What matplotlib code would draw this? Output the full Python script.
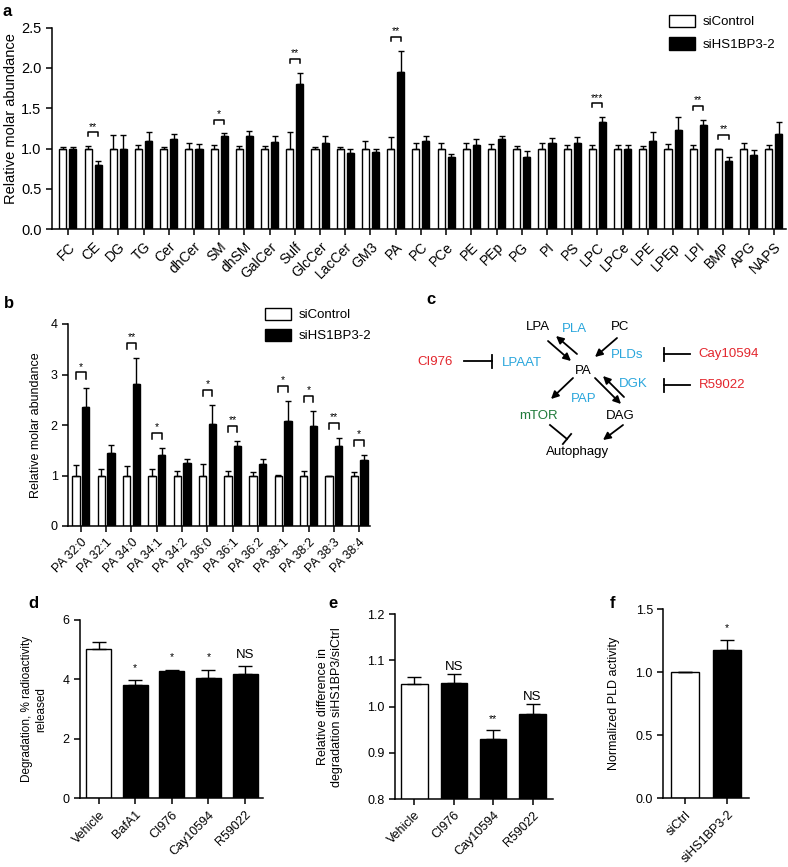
import matplotlib
matplotlib.use("Agg")
import matplotlib.pyplot as plt
import numpy as np

plt.rcParams['font.family'] = ['Liberation Sans', 'DejaVu Sans']
plt.rcParams['axes.linewidth'] = 1.1

# ---- panel a data ----
lipids = ["FC", "CE", "DG", "TG", "Cer", "dhCer", "SM", "dhSM", "GalCer", "Sulf",
          "GlcCer", "LacCer", "GM3", "PA", "PC", "PCe", "PE", "PEp", "PG", "PI",
          "PS", "LPC", "LPCe", "LPE", "LPEp", "LPI", "BMP", "APG", "NAPS"]
ctrl_a = [1.0, 1.0, 1.0, 1.0, 1.0, 1.0, 1.0, 1.0, 1.0, 1.0,
          1.0, 1.0, 1.0, 1.0, 1.0, 1.0, 1.0, 1.0, 1.0, 1.0,
          1.0, 1.0, 1.0, 1.0, 1.0, 1.0, 1.0, 1.0, 1.0]
ctrl_a_err = [0.02, 0.03, 0.17, 0.04, 0.02, 0.07, 0.04, 0.03, 0.03, 0.20,
              0.02, 0.02, 0.09, 0.14, 0.07, 0.07, 0.07, 0.06, 0.03, 0.07,
              0.04, 0.04, 0.05, 0.03, 0.06, 0.04, 0.0, 0.07, 0.04]
kd_a = [0.99, 0.80, 1.00, 1.10, 1.12, 0.99, 1.16, 1.15, 1.08, 1.80,
        1.07, 0.94, 0.96, 1.95, 1.09, 0.89, 1.05, 1.12, 0.90, 1.07,
        1.07, 1.33, 1.00, 1.09, 1.23, 1.29, 0.85, 0.92, 1.18]
kd_a_err = [0.03, 0.05, 0.17, 0.10, 0.06, 0.07, 0.03, 0.07, 0.07, 0.14,
            0.08, 0.05, 0.04, 0.26, 0.07, 0.04, 0.07, 0.04, 0.07, 0.06,
            0.07, 0.06, 0.04, 0.11, 0.16, 0.07, 0.04, 0.06, 0.15]
sig_a = {"CE": "**", "SM": "*", "Sulf": "**", "PA": "**", "LPC": "***", "LPI": "**", "BMP": "**"}

# ---- panel b data ----
species = ["PA 32:0", "PA 32:1", "PA 34:0", "PA 34:1", "PA 34:2", "PA 36:0",
           "PA 36:1", "PA 36:2", "PA 38:1", "PA 38:2", "PA 38:3", "PA 38:4"]
ctrl_b = [1.0, 1.0, 1.0, 1.0, 1.0, 1.0, 1.0, 1.0, 1.0, 1.0, 1.0, 1.0]
ctrl_b_err = [0.20, 0.13, 0.18, 0.12, 0.08, 0.22, 0.09, 0.07, 0.01, 0.09, 0.0, 0.07]
kd_b = [2.35, 1.44, 2.82, 1.41, 1.24, 2.02, 1.58, 1.23, 2.08, 1.98, 1.59, 1.31]
kd_b_err = [0.39, 0.17, 0.50, 0.13, 0.09, 0.38, 0.11, 0.10, 0.40, 0.30, 0.15, 0.09]
sig_b = ["*", "", "**", "*", "", "*", "**", "", "*", "*", "**", "*"]

# ---- panel d data ----
treat_d = ["Vehicle", "BafA1", "CI976", "Cay10594", "R59022"]
degr_d = [5.03, 3.81, 4.29, 4.05, 4.17]
degr_d_err = [0.24, 0.16, 0.04, 0.26, 0.28]
sig_d = ["", "*", "*", "*", "NS"]

# ---- panel e data ----
treat_e = ["Vehicle", "CI976", "Cay10594", "R59022"]
rel_e = [1.049, 1.051, 0.930, 0.985]
rel_e_err = [0.016, 0.020, 0.019, 0.021]
sig_e = ["", "NS", "**", "NS"]

# ---- panel f data ----
cond_f = ["siCtrl", "siHS1BP3-2"]
pld_f = [1.0, 1.18]
pld_f_err = [0.0, 0.08]
sig_f = ["", "*"]

W, H = 788, 867
fig = plt.figure(figsize=(W / 100, H / 100), dpi=100)


def px_axes(x0, y0, x1, y1):
    return fig.add_axes([x0 / W, 1 - y1 / H, (x1 - x0) / W, (y1 - y0) / H])


def style(ax, fs=9):
    for s in ["top", "right"]:
        ax.spines[s].set_visible(False)
    ax.tick_params(direction="out", length=4, width=1.1, labelsize=fs)


ekw = dict(ecolor="k", elinewidth=1, capsize=2.2, capthick=1)


def bracket(ax, x1, x2, y, leg, label, fs=7.5):
    ax.plot([x1, x1, x2, x2], [y - leg, y, y, y - leg], color="k", lw=1.1)
    ax.annotate(label, xy=((x1 + x2) / 2, y), xytext=(0, 2), textcoords="offset points",
                ha="center", va="baseline", fontsize=fs)


# ---------- a ----------
ax = px_axes(52, 27.5, 786, 229.3)
style(ax)
ax.tick_params(axis="y", labelsize=10.5)
ax.tick_params(axis="x", labelsize=10)
x = np.arange(len(lipids))
off, w = 0.2, 0.28
b1 = ax.bar(x - off, ctrl_a, w, color="white", edgecolor="k", lw=1,
            yerr=[np.zeros(len(x)), ctrl_a_err], error_kw=ekw)
b2 = ax.bar(x + off, kd_a, w, color="black", edgecolor="k", lw=1,
            yerr=[np.zeros(len(x)), kd_a_err], error_kw=ekw)
for i, name in enumerate(lipids):
    if name in sig_a:
        top = max(ctrl_a[i] + ctrl_a_err[i], kd_a[i] + kd_a_err[i])
        bracket(ax, i - off, i + off, top + 0.17, 0.05, sig_a[name])
ax.set_xlim(-0.63, 28.48)
ax.set_ylim(0, 2.5)
ax.set_yticks([0, 0.5, 1.0, 1.5, 2.0, 2.5])
ax.set_xticks(x)
ax.set_xticklabels(lipids, rotation=45, ha="right", rotation_mode="anchor")
ax.set_ylabel("Relative molar abundance", fontsize=10.5)
ax.yaxis.set_label_coords(-0.046, 0.55)
ax.legend([b1, b2], ["siControl", "siHS1BP3-2"], loc="upper left",
          bbox_to_anchor=(662 / W, 1 - 8 / H), bbox_transform=fig.transFigure,
          frameon=False, fontsize=9.5, handlelength=2.0, handleheight=1.1,
          labelspacing=0.65, borderpad=0, handletextpad=0.6)

# ---------- b ----------
ax = px_axes(68, 324, 370, 526)
style(ax)
x = np.arange(len(species))
off, w = 0.19, 0.29
b1 = ax.bar(x - off, ctrl_b, w, color="white", edgecolor="k", lw=1,
            yerr=[np.zeros(len(x)), ctrl_b_err], error_kw=ekw)
b2 = ax.bar(x + off, kd_b, w, color="black", edgecolor="k", lw=1,
            yerr=[np.zeros(len(x)), kd_b_err], error_kw=ekw)
for i, s in enumerate(sig_b):
    if s:
        top = max(ctrl_b[i] + ctrl_b_err[i], kd_b[i] + kd_b_err[i])
        bracket(ax, i - off, i + off, top + 0.3, 0.12, s)
ax.set_xlim(-0.51, 11.43)
ax.set_ylim(0, 4)
ax.set_yticks([0, 1, 2, 3, 4])
ax.set_xticks(x)
ax.set_xticklabels(species, rotation=45, ha="right", rotation_mode="anchor")
ax.set_ylabel("Relative molar abundance", fontsize=9)
ax.yaxis.set_label_coords(-0.085, 0.5)
ax.legend([b1, b2], ["siControl", "siHS1BP3-2"], loc="upper left",
          bbox_to_anchor=(258 / W, 1 - 301 / H), bbox_transform=fig.transFigure,
          frameon=False, fontsize=9.5, handlelength=2.0, handleheight=1.1,
          labelspacing=0.55, borderpad=0, handletextpad=0.6)

# ---------- d ----------
ax = px_axes(80, 620, 263, 798.3)
style(ax)
x = np.arange(len(treat_d))
colors = ["white"] + ["black"] * (len(x) - 1)
ax.bar(x, degr_d, 0.68, color=colors, edgecolor="k", lw=1,
       yerr=[np.zeros(len(x)), degr_d_err], error_kw=dict(ekw, capsize=5))
for i, s in enumerate(sig_d):
    if s:
        fs = 9.5 if s == "NS" else 7.5
        ax.annotate(s, xy=(i, degr_d[i] + degr_d_err[i]), xytext=(0, 6 if s == "NS" else 7),
                    textcoords="offset points", ha="center", va="baseline", fontsize=fs)
ax.set_xlim(-0.51, 4.49)
ax.set_ylim(0, 6)
ax.set_yticks([0, 2, 4, 6])
ax.set_xticks(x)
ax.set_xticklabels(treat_d, rotation=45, ha="right", rotation_mode="anchor")
ax.set_ylabel("Degradation, % radioactivity\nreleased", fontsize=8.5)
ax.yaxis.set_label_coords(-0.18, 0.5)

# ---------- e ----------
ax = px_axes(395, 614.3, 552.7, 799)
style(ax)
x = np.arange(len(treat_e))
colors = ["white"] + ["black"] * (len(x) - 1)
ax.bar(x, rel_e, 0.67, color=colors, edgecolor="k", lw=1,
       yerr=[np.zeros(len(x)), rel_e_err], error_kw=dict(ekw, capsize=5))
for i, s in enumerate(sig_e):
    if s:
        fs = 9.5 if s == "NS" else 7.5
        ax.annotate(s, xy=(i, rel_e[i] + rel_e_err[i]), xytext=(0, 3 if s == "NS" else 6),
                    textcoords="offset points", ha="center", va="baseline", fontsize=fs)
ax.set_xlim(-0.49, 3.51)
ax.set_ylim(0.8, 1.2)
ax.set_yticks([0.8, 0.9, 1.0, 1.1, 1.2])
ax.set_xticks(x)
ax.set_xticklabels(treat_e, rotation=45, ha="right", rotation_mode="anchor")
ax.set_ylabel("Relative difference in\ndegradation siHS1BP3/siCtrl", fontsize=9)
ax.yaxis.set_label_coords(-0.33, 0.5)

# ---------- f ----------
ax = px_axes(663.3, 609.3, 749.3, 798.3)
style(ax)
x = np.arange(len(cond_f))
ax.bar(x, pld_f, 0.68, color=["white", "black"], edgecolor="k", lw=1,
       yerr=[np.zeros(len(x)), pld_f_err], error_kw=dict(ekw, capsize=5))
for i, s in enumerate(sig_f):
    if s:
        ax.annotate(s, xy=(i, pld_f[i] + pld_f_err[i]), xytext=(0, 6),
                    textcoords="offset points", ha="center", va="baseline", fontsize=7.5)
ax.set_xlim(-0.52, 1.53)
ax.set_ylim(0, 1.5)
ax.set_yticks([0, 0.5, 1.0, 1.5])
ax.set_xticks(x)
ax.set_xticklabels(cond_f, rotation=45, ha="right", rotation_mode="anchor")
ax.set_ylabel("Normalized PLD activity", fontsize=9)
ax.yaxis.set_label_coords(-0.5, 0.5)

# ---------- c (pathway diagram) + panel letters ----------
ov = fig.add_axes([0, 0, 1, 1], facecolor="none")
ov.set_xlim(0, W)
ov.set_ylim(H, 0)
ov.axis("off")

red, blue, green = "#e3262d", "#2aa6dc", "#1f7a3a"
labels_c = [("LPA", 538, 327, "k"), ("PLA", 574, 329, blue), ("PC", 620, 327, "k"),
            ("CI976", 435, 362, red), ("LPAAT", 522, 363, blue), ("PA", 583, 371, "k"),
            ("PLDs", 627, 355, blue), ("Cay10594", 729, 354, red), ("DGK", 633, 384, blue),
            ("R59022", 722, 385, red), ("PAP", 584, 399, blue), ("mTOR", 538, 416, green),
            ("DAG", 620, 416, "k"), ("Autophagy", 578, 452, "k")]
for t, tx, ty, c in labels_c:
    ov.text(tx, ty, t, color=c, fontsize=9.5, ha="center", va="center")


def arrow(p0, p1):
    ov.annotate("", xy=p1, xytext=p0,
                arrowprops=dict(arrowstyle="-|>", color="k", lw=1.3, mutation_scale=11,
                                shrinkA=0, shrinkB=0))


def inhibit(p0, p1, half=6.5):
    ov.plot([p0[0], p1[0]], [p0[1], p1[1]], color="k", lw=1.3)
    d = np.array(p1, float) - np.array(p0, float)
    d /= np.hypot(*d)
    n = np.array([-d[1], d[0]]) * half
    ov.plot([p1[0] - n[0], p1[0] + n[0]], [p1[1] - n[1], p1[1] + n[1]], color="k", lw=1.3)


arrow((548, 341), (571, 361))
arrow((577, 354), (556, 336))
arrow((617, 338), (595, 357))
arrow((573, 378), (551, 399))
arrow((595, 378), (621, 404))
arrow((624, 397), (603, 376))
arrow((623, 425), (603, 440))
inhibit((464, 361), (492, 361))
inhibit((690, 354), (664, 354))
inhibit((690, 385), (664, 385))
inhibit((550, 425), (567, 439))

for t, tx, ty in [("a", 3, 12), ("b", 4, 304), ("c", 426, 300), ("d", 28, 603),
                  ("e", 328, 604), ("f", 610, 604)]:
    ov.text(tx, ty, t, fontsize=12, fontweight="bold", ha="left", va="center")

fig.savefig("out.png", dpi=100)
